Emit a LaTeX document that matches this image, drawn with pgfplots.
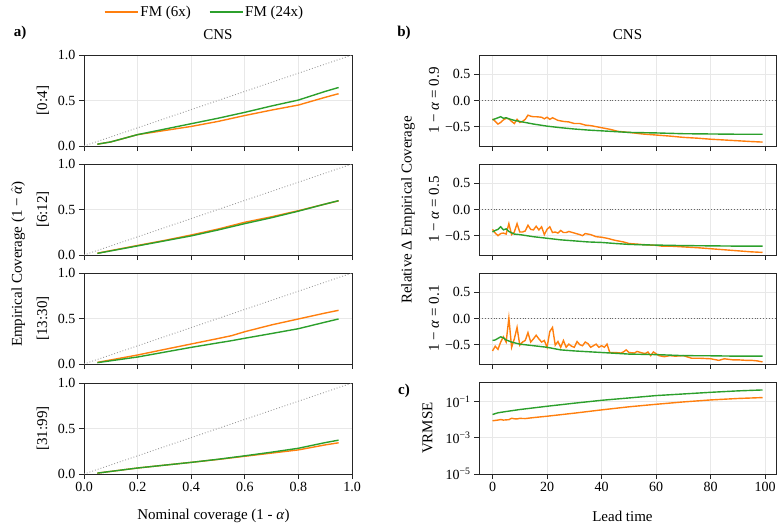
\documentclass[border=0pt]{standalone}
\usepackage{pgfplots}
\pgfplotsset{compat=1.18}
\usepackage{fontspec}
\setmainfont{Liberation Serif}
\definecolor{tab orange}{HTML}{FF7F0E}
\definecolor{tab green}{HTML}{2CA02C}
\newcommand{\ticksize}{\fontsize{14}{16}\selectfont}
\newcommand{\labsize}{\fontsize{15}{18}\selectfont}
\pgfplotsset{
  base/.style={
    scale only axis,
    axis line style={black!85, line width=0.8pt},
    tick align=outside,
    major tick length=5pt,
    tick style={black!85, line width=0.8pt},
    xtick pos=lower, ytick pos=left,
    grid=major,
    major grid style={black!9, line width=0.8pt},
    tick label style={font=\ticksize},
    label style={font=\labsize},
    title style={font=\labsize},
    /pgf/number format/assume math mode=true,
    clip=true,
  },
  lft/.style={base,
    width=268pt, height=91pt,
    xmin=0, xmax=1, ymin=0, ymax=1,
    xtick={0,0.2,0.4,0.6,0.8,1},
    ytick={0,0.5,1}, yticklabels={0.0,0.5,1.0},
    xticklabels={},
    every axis y label/.style={at={(axis description cs:-0.153,0.5)}, rotate=90, anchor=center, font=\labsize},
  },
  rgt/.style={base,
    width=297pt, height=91pt,
    xmin=-4.95, xmax=103.95, ymin=-0.87, ymax=0.87,
    xtick={0,20,40,60,80,100},
    ytick={-0.5,0,0.5}, yticklabels={−0.5,0.0,0.5},
    xticklabels={},
    every axis y label/.style={at={(axis description cs:-0.1515,0.5)}, rotate=90, anchor=center, font=\labsize},
  },
  orn/.style={color=tab orange, line width=1.4pt, no markers},
  grn/.style={color=tab green, line width=1.4pt, no markers},
  diag/.style={color=black!40, dotted, line width=0.9pt, no markers, forget plot},
  zero/.style={color=black!60, dotted, line width=0.9pt, no markers, forget plot},
}
\begin{document}
\begin{tikzpicture}
\useasboundingbox (0pt,0pt) rectangle (783pt,-531pt);

% ---------------- left column ----------------
\begin{axis}[lft, at={(84pt,-146pt)}, anchor=south west, ylabel={[0:4]}, title={CNS},
  title style={at={(0.5,1.154)}, anchor=center},
  legend columns=2,
  legend style={at={(0.45,1.473)}, anchor=center, draw=none, fill=none, font=\labsize,
    /tikz/every even column/.append style={column sep=16pt}},
  legend image code/.code={\draw[#1] (0pt,0pt) -- (33pt,0pt);},
  ]
\addplot[diag] coordinates {(0,0) (1,1)};
\addplot[orn] coordinates {(0.05,0.02) (0.1,0.045) (0.2,0.125) (0.3,0.17) (0.4,0.215) (0.5,0.27) (0.6,0.335) (0.7,0.395) (0.8,0.45) (0.9,0.535) (0.95,0.575)};
\addlegendentry{FM (6x)}
\addplot[grn] coordinates {(0.05,0.02) (0.1,0.045) (0.2,0.125) (0.3,0.185) (0.4,0.245) (0.5,0.305) (0.6,0.37) (0.7,0.44) (0.8,0.505) (0.9,0.6) (0.95,0.643)};
\addlegendentry{FM (24x)}
\end{axis}

\begin{axis}[lft, at={(84pt,-255pt)}, anchor=south west, ylabel={[6:12]}]
\addplot[diag] coordinates {(0,0) (1,1)};
\addplot[orn] coordinates {(0.05,0.02) (0.2,0.105) (0.3,0.16) (0.4,0.22) (0.5,0.285) (0.6,0.36) (0.7,0.42) (0.8,0.487) (0.9,0.56) (0.95,0.595)};
\addplot[grn] coordinates {(0.05,0.018) (0.2,0.10) (0.3,0.155) (0.4,0.21) (0.5,0.275) (0.6,0.345) (0.7,0.41) (0.8,0.482) (0.9,0.56) (0.95,0.597)};
\end{axis}

\begin{axis}[lft, at={(84pt,-364pt)}, anchor=south west, ylabel={[13:30]}]
\addplot[diag] coordinates {(0,0) (1,1)};
\addplot[orn] coordinates {(0.05,0.018) (0.2,0.099) (0.3,0.16) (0.4,0.22) (0.5,0.28) (0.55,0.311) (0.6,0.355) (0.7,0.43) (0.8,0.495) (0.9,0.56) (0.95,0.59)};
\addplot[grn] coordinates {(0.05,0.015) (0.2,0.077) (0.3,0.13) (0.4,0.183) (0.5,0.232) (0.55,0.256) (0.6,0.283) (0.7,0.335) (0.8,0.388) (0.9,0.46) (0.95,0.495)};
\end{axis}

\begin{axis}[lft, at={(84pt,-474pt)}, anchor=south west, ylabel={[31:99]},
  xticklabels={0.0,0.2,0.4,0.6,0.8,1.0},
  xlabel={Nominal coverage (1 - \textit{α})},
  every axis x label/.style={at={(axis description cs:0.483,-0.46)}, anchor=center, font=\labsize}]
\addplot[diag] coordinates {(0,0) (1,1)};
\addplot[orn] coordinates {(0.05,0.01) (0.2,0.066) (0.3,0.097) (0.4,0.128) (0.5,0.16) (0.6,0.195) (0.7,0.23) (0.8,0.265) (0.9,0.32) (0.95,0.343)};
\addplot[grn] coordinates {(0.05,0.01) (0.2,0.066) (0.3,0.097) (0.4,0.128) (0.5,0.162) (0.6,0.2) (0.7,0.24) (0.8,0.283) (0.9,0.345) (0.95,0.372)};
\end{axis}

% ---------------- right column ----------------
\begin{axis}[rgt, at={(479pt,-146pt)}, anchor=south west, ylabel={1 − \textit{α} = 0.9}, title={CNS},
  title style={at={(0.5,1.154)}, anchor=center}]
\addplot[zero] coordinates {(-4.95,0) (103.95,0)};
\addplot[orn] coordinates {(0,-0.35) (1,-0.40) (2,-0.45) (3,-0.42) (4,-0.37) (5,-0.34) (6,-0.35) (7,-0.40) (8,-0.44) (9,-0.36) (10,-0.42) (11,-0.40) (12,-0.36) (13,-0.28) (14,-0.30) (15,-0.31) (16,-0.31) (18,-0.32) (19,-0.35) (20,-0.32) (21,-0.36) (22,-0.33) (24,-0.38) (26,-0.40) (28,-0.41) (30,-0.44) (32,-0.44) (34,-0.47) (36,-0.48) (38,-0.50) (40,-0.52) (43,-0.55) (46,-0.59) (50,-0.61) (55,-0.64) (60,-0.66) (65,-0.68) (70,-0.705) (75,-0.72) (80,-0.74) (85,-0.755) (90,-0.77) (95,-0.785) (99,-0.795)};
\addplot[grn] coordinates {(0,-0.37) (1,-0.35) (3,-0.31) (4,-0.34) (5,-0.33) (6,-0.35) (8,-0.38) (10,-0.40) (12,-0.42) (15,-0.45) (20,-0.49) (25,-0.52) (30,-0.545) (35,-0.565) (40,-0.58) (45,-0.595) (50,-0.61) (55,-0.615) (60,-0.62) (70,-0.635) (80,-0.64) (90,-0.645) (99,-0.645)};
\end{axis}

\begin{axis}[rgt, at={(479pt,-255pt)}, anchor=south west, ylabel={1 − \textit{α} = 0.5}]
\addplot[zero] coordinates {(-4.95,0) (103.95,0)};
\addplot[orn] coordinates {(0,-0.38) (1,-0.45) (2,-0.5) (3,-0.46) (4,-0.45) (5,-0.47) (6,-0.27) (7,-0.48) (8,-0.43) (9,-0.27) (10,-0.43) (11,-0.43) (12,-0.41) (13,-0.30) (14,-0.38) (15,-0.39) (16,-0.32) (17,-0.39) (18,-0.33) (19,-0.48) (20,-0.38) (21,-0.33) (22,-0.44) (23,-0.43) (24,-0.45) (25,-0.40) (26,-0.44) (27,-0.44) (28,-0.42) (30,-0.45) (32,-0.48) (33,-0.50) (34,-0.46) (36,-0.48) (38,-0.52) (40,-0.53) (42,-0.55) (45,-0.59) (48,-0.62) (50,-0.65) (55,-0.67) (58,-0.68) (60,-0.685) (62,-0.70) (65,-0.70) (70,-0.715) (75,-0.73) (80,-0.75) (85,-0.77) (90,-0.79) (95,-0.81) (99,-0.82)};
\addplot[grn] coordinates {(0,-0.43) (1,-0.40) (2,-0.38) (3,-0.33) (4,-0.39) (5,-0.37) (6,-0.42) (8,-0.47) (10,-0.48) (15,-0.52) (20,-0.55) (25,-0.58) (30,-0.60) (35,-0.62) (40,-0.63) (45,-0.65) (50,-0.667) (55,-0.675) (60,-0.68) (70,-0.69) (80,-0.695) (90,-0.70) (99,-0.70)};
\end{axis}

\begin{axis}[rgt, at={(479pt,-364pt)}, anchor=south west, ylabel={1 − \textit{α} = 0.1}]
\addplot[zero] coordinates {(-4.95,0) (103.95,0)};
\addplot[orn] coordinates {(0,-0.62) (1,-0.53) (2,-0.59) (3,-0.45) (4,-0.35) (5,-0.45) (6,0.01) (7,-0.55) (8,-0.39) (9,-0.17) (10,-0.51) (11,-0.45) (12,-0.42) (13,-0.27) (14,-0.45) (15,-0.39) (16,-0.32) (17,-0.39) (18,-0.45) (19,-0.42) (20,-0.55) (21,-0.25) (22,-0.17) (23,-0.51) (24,-0.44) (25,-0.55) (26,-0.42) (27,-0.55) (28,-0.49) (29,-0.53) (30,-0.55) (31,-0.44) (32,-0.50) (33,-0.52) (34,-0.45) (35,-0.48) (36,-0.55) (37,-0.52) (38,-0.49) (39,-0.55) (40,-0.52) (41,-0.55) (42,-0.49) (43,-0.65) (45,-0.65) (47,-0.66) (48,-0.64) (49,-0.60) (50,-0.65) (52,-0.66) (53,-0.63) (55,-0.66) (56,-0.67) (57,-0.64) (58,-0.71) (59,-0.64) (61,-0.71) (63,-0.73) (65,-0.71) (67,-0.72) (70,-0.71) (73,-0.76) (76,-0.76) (80,-0.77) (83,-0.80) (85,-0.77) (88,-0.79) (90,-0.79) (93,-0.80) (95,-0.80) (97,-0.81) (99,-0.83)};
\addplot[grn] coordinates {(0,-0.42) (1,-0.41) (2,-0.38) (3,-0.35) (4,-0.37) (5,-0.41) (7,-0.45) (10,-0.49) (15,-0.52) (20,-0.55) (25,-0.6) (30,-0.62) (35,-0.635) (40,-0.65) (50,-0.68) (60,-0.69) (70,-0.71) (80,-0.713) (90,-0.72) (99,-0.72)};
\end{axis}

\begin{axis}[base, at={(479pt,-474pt)}, anchor=south west,
  width=297pt, height=92pt,
  ymode=log, xmin=-4.95, xmax=103.95, ymin=1e-5, ymax=1.2,
  xtick={0,20,40,60,80,100},
  ytick={1e-5,1e-3,1e-1}, yticklabels={10\textsuperscript{−5},10\textsuperscript{−3},10\textsuperscript{−1}},
  minor ytick={}, 
  ylabel={VRMSE}, xlabel={Lead time},
  every axis y label/.style={at={(axis description cs:-0.173,0.5)}, rotate=90, anchor=center, font=\labsize},
  every axis x label/.style={at={(axis description cs:0.483,-0.46)}, anchor=center, font=\labsize}]
\addplot[orn] coordinates {(0,0.0087) (2,0.0095) (3,0.0102) (4,0.0095) (6,0.0100) (7,0.012) (8,0.0112) (9,0.0110) (10,0.0118) (12,0.0115) (15,0.0130) (20,0.0155) (30,0.0229) (40,0.0347) (50,0.0513) (60,0.0708) (70,0.0955) (80,0.123) (90,0.148) (99,0.166)};
\addplot[grn] coordinates {(0,0.0193) (2,0.024) (5,0.0282) (10,0.0363) (20,0.055) (30,0.0813) (40,0.1175) (50,0.158) (60,0.214) (70,0.263) (80,0.324) (90,0.389) (99,0.437)};
\end{axis}

% ---------------- shared labels ----------------
\node[font=\labsize\bfseries] at (20pt,-33pt) {a)};
\node[font=\labsize\bfseries] at (404pt,-33pt) {b)};
\node[font=\labsize\bfseries] at (404pt,-391pt) {c)};
\node[font=\labsize, rotate=90] at (18pt,-264pt) {Empirical Coverage (1 − $\hat{\mbox{\textit{α}}}$)};
\node[font=\labsize, rotate=90] at (408pt,-210pt) {Relative Δ Empirical Coverage};
\end{tikzpicture}
\end{document}
